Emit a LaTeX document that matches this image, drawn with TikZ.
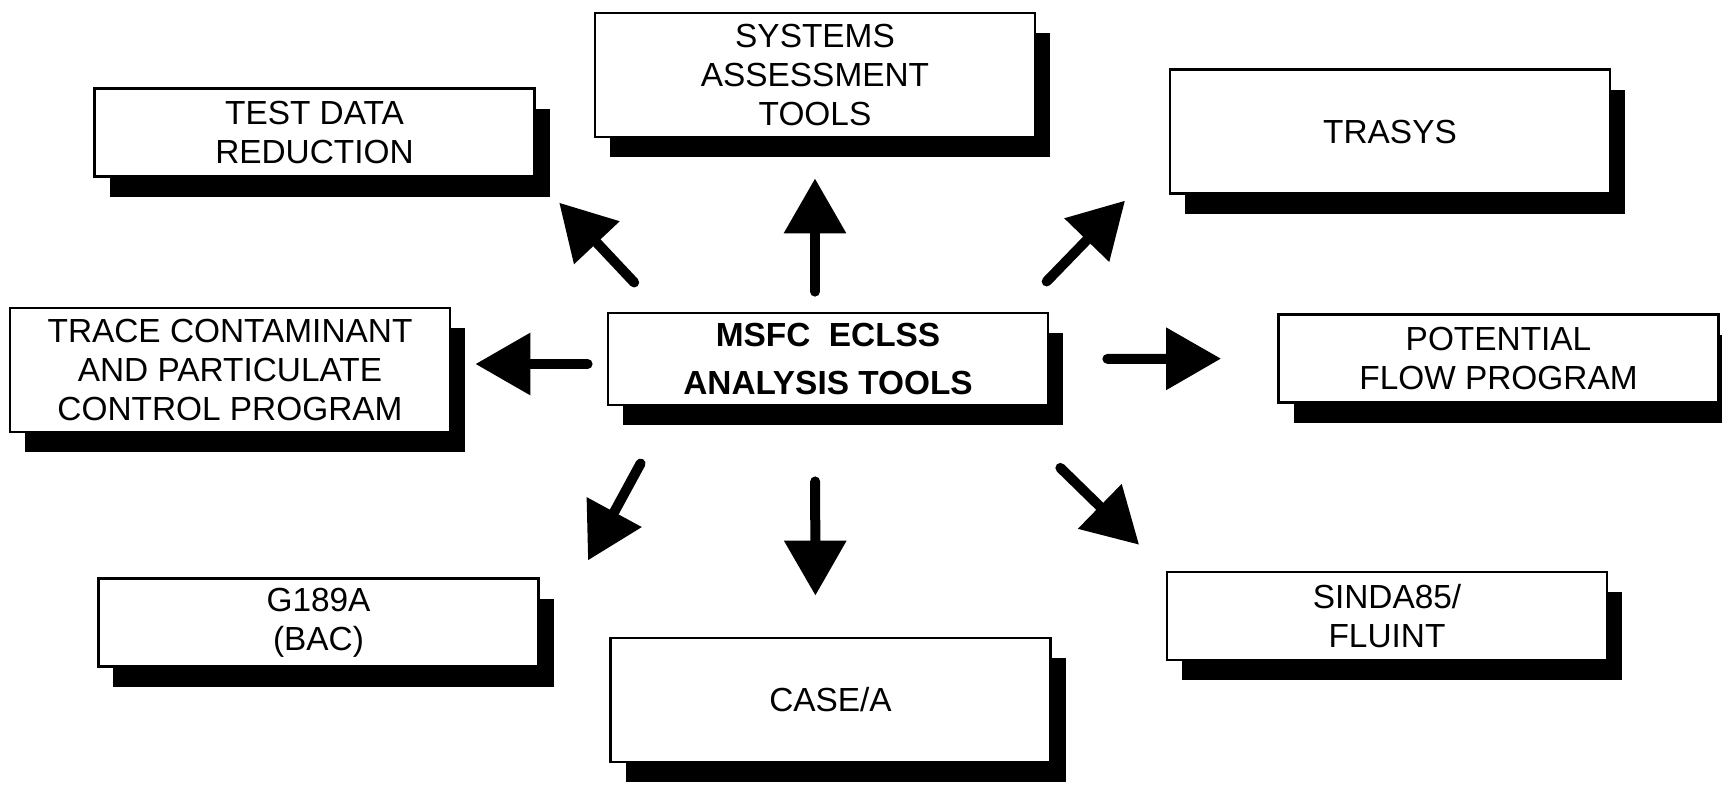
\documentclass[tikz,border=0pt]{standalone}
\usepackage{fontspec}
\setmainfont{Liberation Sans}
\usetikzlibrary{arrows.meta,shadows}

\begin{document}
\begin{tikzpicture}[font=\fontsize{9.5}{11.1}\selectfont,
  box/.style={draw, line width=0.8pt, fill=white, align=center, inner sep=0pt,
    minimum width=4.4cm, minimum height=0.88cm,
    drop shadow={shadow xshift=0.15cm, shadow yshift=-0.2cm, fill=black, opacity=1}},
  tallbox/.style={box, minimum height=1.24cm},
  fat/.style={line width=0.1cm, line cap=round, -{Triangle[length=0.55cm, width=0.6cm]}}]
  \useasboundingbox (0,0) rectangle (17.22,-7.90);
  \node[box] (test) at (3.145,-1.325) {TEST DATA\\REDUCTION};
  \node[tallbox] (sys) at (8.15,-0.75) {SYSTEMS\\ASSESSMENT\\TOOLS};
  \node[tallbox] (trasys) at (13.90,-1.315) {TRASYS};
  \node[tallbox] (trace) at (2.30,-3.70) {TRACE CONTAMINANT\\AND PARTICULATE\\CONTROL PROGRAM};
  \node[box, minimum height=0.92cm, font=\fontsize{9.5}{13.4}\selectfont\bfseries] (msfc) at (8.28,-3.59) {MSFC\ \ ECLSS\\ANALYSIS TOOLS};
  \node[box] (pot) at (14.985,-3.585) {POTENTIAL\\FLOW PROGRAM};
  \node[box] (g189) at (3.185,-6.225) {G189A\\(BAC)};
  \node[tallbox] (casea) at (8.305,-7.00) {CASE/A};
  \node[box] (sinda) at (13.87,-6.16) {SINDA85/\\FLUINT};
  % arrows out of the centre box
  \draw[fat, shorten <=0.4cm, shorten >=0.34cm] ([xshift=0.55cm]msfc.north west) -- (test.south east);
  \draw[fat, shorten <=0.2cm, shorten >=0.4cm] (msfc.north -| sys.south) -- (sys.south);
  \draw[fat, shorten <=0.42cm, shorten >=0.08cm] ([xshift=-0.32cm]msfc.north east) -- ([xshift=-0.38cm]trasys.south west);
  \draw[fat, shorten <=0.19cm, shorten >=0.24cm] ([yshift=-0.05cm]msfc.west) -- ([yshift=-0.05cm]msfc.west -| trace.east);
  \draw[fat, shorten <=0.58cm, shorten >=0.56cm] (msfc.east) -- (pot.west);
  \draw[fat, shorten <=0.65cm, shorten >=0.19cm] ([xshift=0.65cm]msfc.south west) -- ([xshift=0.39cm]g189.north east);
  \draw[fat, shorten <=0.75cm, shorten >=0.41cm] ([xshift=-0.13cm]msfc.south) -- ([xshift=-0.15cm]casea.north);
  \draw[fat, shorten <=0.88cm, shorten >=0.37cm] ([xshift=-0.52cm]msfc.south east) -- (sinda.north west);
\end{tikzpicture}
\end{document}
